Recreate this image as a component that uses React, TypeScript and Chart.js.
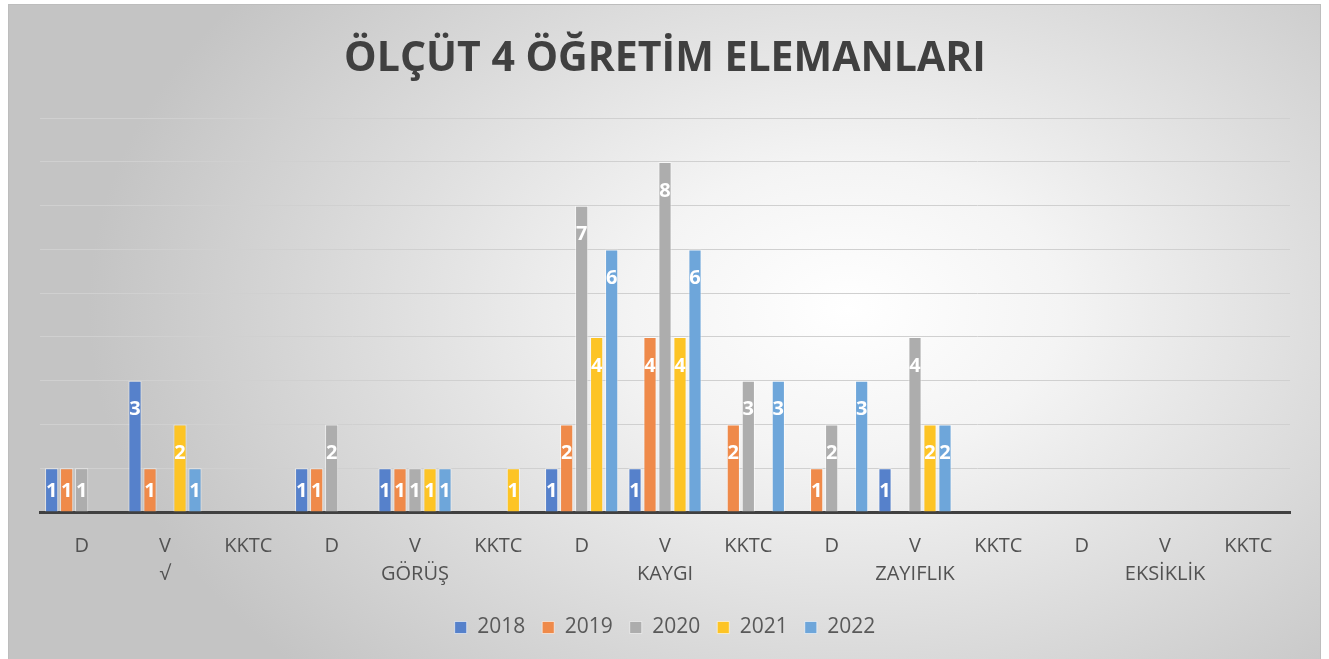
import React, { useEffect, useRef } from "react";
import { Chart, registerables } from "chart.js";

Chart.register(...registerables);

const categories: string[][] = [
  ["D", ""], ["V", "√"], ["KKTC", ""],
  ["D", ""], ["V", "GÖRÜŞ"], ["KKTC", ""],
  ["D", ""], ["V", "KAYGI"], ["KKTC", ""],
  ["D", ""], ["V", "ZAYIFLIK"], ["KKTC", ""],
  ["D", ""], ["V", "EKSİKLİK"], ["KKTC", ""],
];

const seriesNames = ["2018", "2019", "2020", "2021", "2022"];

const v2018 = [1, 3, null, 1, 1, null, 1, 1, null, null, 1, null, null, null, null];
const v2019 = [1, 1, null, 1, 1, null, 2, 4, 2, 1, null, null, null, null, null];
const v2020 = [1, null, null, 2, 1, null, 7, 8, 3, 2, 4, null, null, null, null];
const v2021 = [null, 2, null, null, 1, 1, 4, 4, null, null, 2, null, null, null, null];
const v2022 = [null, 1, null, null, 1, null, 6, 6, 3, 3, 2, null, null, null, null];

const seriesValues = [v2018, v2019, v2020, v2021, v2022];
const seriesColors = ["#5681cb", "#ef8a4a", "#adadad", "#fdc425", "#6ea6da"];

const titleText = "ÖLÇÜT 4 ÖĞRETİM ELEMANLARI";
const yMax = 9;

const labelPlugin = {
  id: "barLabels",
  afterDatasetsDraw(chart: any) {
    const ctx = chart.ctx;
    ctx.save();
    ctx.fillStyle = "#ffffff";
    ctx.font = "bold 20px 'Open Sans'";
    ctx.textAlign = "center";
    ctx.textBaseline = "middle";
    chart.data.datasets.forEach((ds: any, di: number) => {
      const meta = chart.getDatasetMeta(di);
      meta.data.forEach((el: any, i: number) => {
        const v = ds.data[i];
        if (v === null || v === undefined) return;
        const y = Math.min(el.y + 28, (el.y + el.base) / 2);
        ctx.fillText(String(v), el.x, y + 1);
      });
    });
    ctx.restore();
  },
};

export default function App() {
  const ref = useRef<HTMLCanvasElement>(null);
  useEffect(() => {
    if (!ref.current) return;
    const chart = new Chart(ref.current, {
      type: "bar",
      data: {
        labels: categories,
        datasets: seriesNames.map((n, i) => ({
          label: n,
          data: seriesValues[i],
          backgroundColor: seriesColors[i],
          borderColor: "rgba(255,255,255,0.55)",
          borderWidth: 1,
          categoryPercentage: 0.9,
          barPercentage: 0.88,
        })),
      },
      options: {
        animation: false,
        responsive: false,
        maintainAspectRatio: false,
        layout: { padding: { left: 31, right: 30, top: 0, bottom: 11 } },
        plugins: {
          title: {
            display: true,
            text: titleText,
            color: "#404040",
            font: { family: "'Open Sans'", size: 41, weight: "bold", lineHeight: 1.2 },
            padding: { top: 30, bottom: 34 },
          },
          legend: {
            position: "bottom",
            labels: {
              color: "#595959",
              font: { family: "'Open Sans'", size: 21 },
              boxWidth: 12,
              boxHeight: 12,
              padding: 17,
            },
          },
          tooltip: { enabled: false },
        },
        scales: {
          x: {
            grid: { display: false, drawTicks: false },
            border: { color: "#404040", width: 3 },
            ticks: {
              color: "#525252",
              font: { family: "'Open Sans'", size: 20, lineHeight: 1.4 },
              padding: 20,
              maxRotation: 0,
              autoSkip: false,
            },
            afterFit: (s: any) => { s.height = 88; },
          },
          y: {
            min: 0,
            max: yMax,
            ticks: { display: false, stepSize: 1 },
            grid: { color: "#d0d0d0", lineWidth: 1, drawTicks: false },
            border: { display: false },
            afterFit: (s: any) => { s.width = 0; },
          },
        },
      },
      plugins: [labelPlugin],
    });
    return () => chart.destroy();
  }, []);

  return (
    <div
      style={{
        position: "absolute",
        left: 8,
        top: 4,
        width: 1311,
        height: 660,
        borderTop: "1px solid #bdbdbd",
        borderLeft: "1px solid #bdbdbd",
        borderRight: "1px solid #bdbdbd",
        background:
          "radial-gradient(ellipse 760px 520px at 64% 46%, #ffffff 0%, #f4f4f4 28%, #c4c4c4 100%)",
      }}
    >
      <canvas ref={ref} width={1311} height={654} style={{ display: "block" }} />
    </div>
  );
}
